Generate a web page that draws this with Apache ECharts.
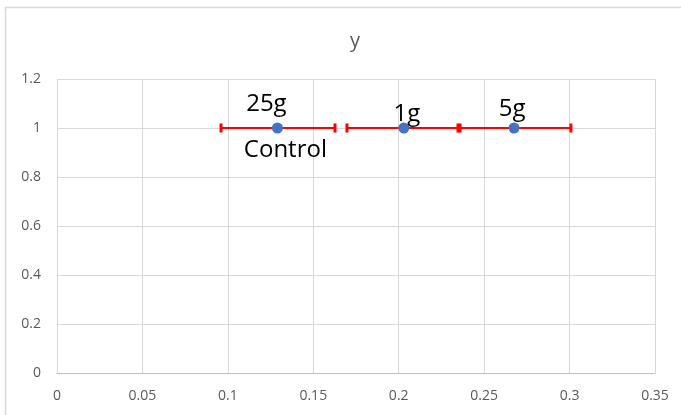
<!DOCTYPE html>
<html><head><meta charset="utf-8">
<script src="https://cdn.jsdelivr.net/npm/echarts@6/dist/echarts.min.js"></script>
<style>html,body{margin:0;padding:0;background:#fff}#c{width:681px;height:415px}</style>
</head><body><div id="c"></div>
<script>
const titleText = 'y';
const pointLabels = ['25g', '1g', '5g'];
const xValues = [0.129, 0.203, 0.2675];
const yValues = [1, 1, 1];
const xErrLow = [0.096, 0.1697, 0.2359];
const xErrHigh = [0.1627, 0.2347, 0.3008];
const extraLabel = 'Control';
const extraLabelIndex = 0;
const xTicks = { min: 0, max: 0.35, interval: 0.05 };
const yTicks = { min: 0, max: 1.2, interval: 0.2 };

const labelOffsets = [[-11, -24], [3, -14], [-2, -19]];
const FONT = '"Open Sans", sans-serif';

const chart = echarts.init(document.getElementById('c'));
chart.setOption({
  backgroundColor: '#fff',
  animation: false,
  title: { text: titleText, left: 350, top: 26, textAlign: 'center',
    textStyle: { color: '#595959', fontSize: 20, fontWeight: 'normal', fontFamily: FONT } },
  graphic: [{ type: 'rect', shape: { x: 5.5, y: 7.5, width: 700, height: 420 },
    style: { fill: 'none', stroke: '#d9d9d9', lineWidth: 1.5 }, silent: true }],
  grid: { left: 57, right: 26, top: 79, bottom: 42 },
  xAxis: {
    type: 'value', min: xTicks.min, max: xTicks.max, interval: xTicks.interval,
    axisLine: { show: true, lineStyle: { color: '#bfbfbf', width: 1 } },
    axisTick: { show: false },
    splitLine: { show: true, lineStyle: { color: '#d9d9d9', width: 1 } },
    axisLabel: { color: '#595959', fontSize: 14, fontFamily: FONT, margin: 16 }
  },
  yAxis: {
    type: 'value', min: yTicks.min, max: yTicks.max, interval: yTicks.interval,
    axisLine: { show: false }, axisTick: { show: false },
    splitLine: { show: true, lineStyle: { color: '#d9d9d9', width: 1 } },
    axisLabel: { color: '#595959', fontSize: 14, fontFamily: FONT, margin: 16 }
  },
  series: [
    {
      type: 'custom',
      data: xValues.map((x, i) => [xErrLow[i], xErrHigh[i], yValues[i]]),
      renderItem: function (params, api) {
        const lo = api.coord([api.value(0), api.value(2)]);
        const hi = api.coord([api.value(1), api.value(2)]);
        const h = 4.5;
        const st = { stroke: '#ff0000', lineWidth: 2 };
        const capSt = { stroke: '#ff0000', lineWidth: 3 };
        return { type: 'group', children: [
          { type: 'line', shape: { x1: lo[0], y1: lo[1], x2: hi[0], y2: hi[1] }, style: st },
          { type: 'line', shape: { x1: lo[0], y1: lo[1] - h, x2: lo[0], y2: lo[1] + h }, style: capSt },
          { type: 'line', shape: { x1: hi[0], y1: hi[1] - h, x2: hi[0], y2: hi[1] + h }, style: capSt }
        ]};
      },
      z: 2
    },
    {
      type: 'scatter',
      symbol: 'circle',
      symbolSize: 11,
      itemStyle: { color: '#4472c4', opacity: 1 },
      data: xValues.map((x, i) => ({
        value: [x, yValues[i]],
        label: { show: true, formatter: pointLabels[i], position: 'inside', offset: labelOffsets[i],
          color: '#000', fontSize: 24, fontFamily: FONT }
      })),
      z: 3
    },
    {
      type: 'scatter',
      symbol: 'circle',
      symbolSize: 1,
      silent: true,
      itemStyle: { color: 'rgba(0,0,0,0)', opacity: 1 },
      data: [{
        value: [xValues[extraLabelIndex], yValues[extraLabelIndex]],
        label: { show: true, formatter: extraLabel, position: 'inside', offset: [8, 22],
          color: '#000', opacity: 1, fontSize: 24, fontFamily: FONT }
      }],
      z: 4
    }
  ]
});
</script>
</body></html>
